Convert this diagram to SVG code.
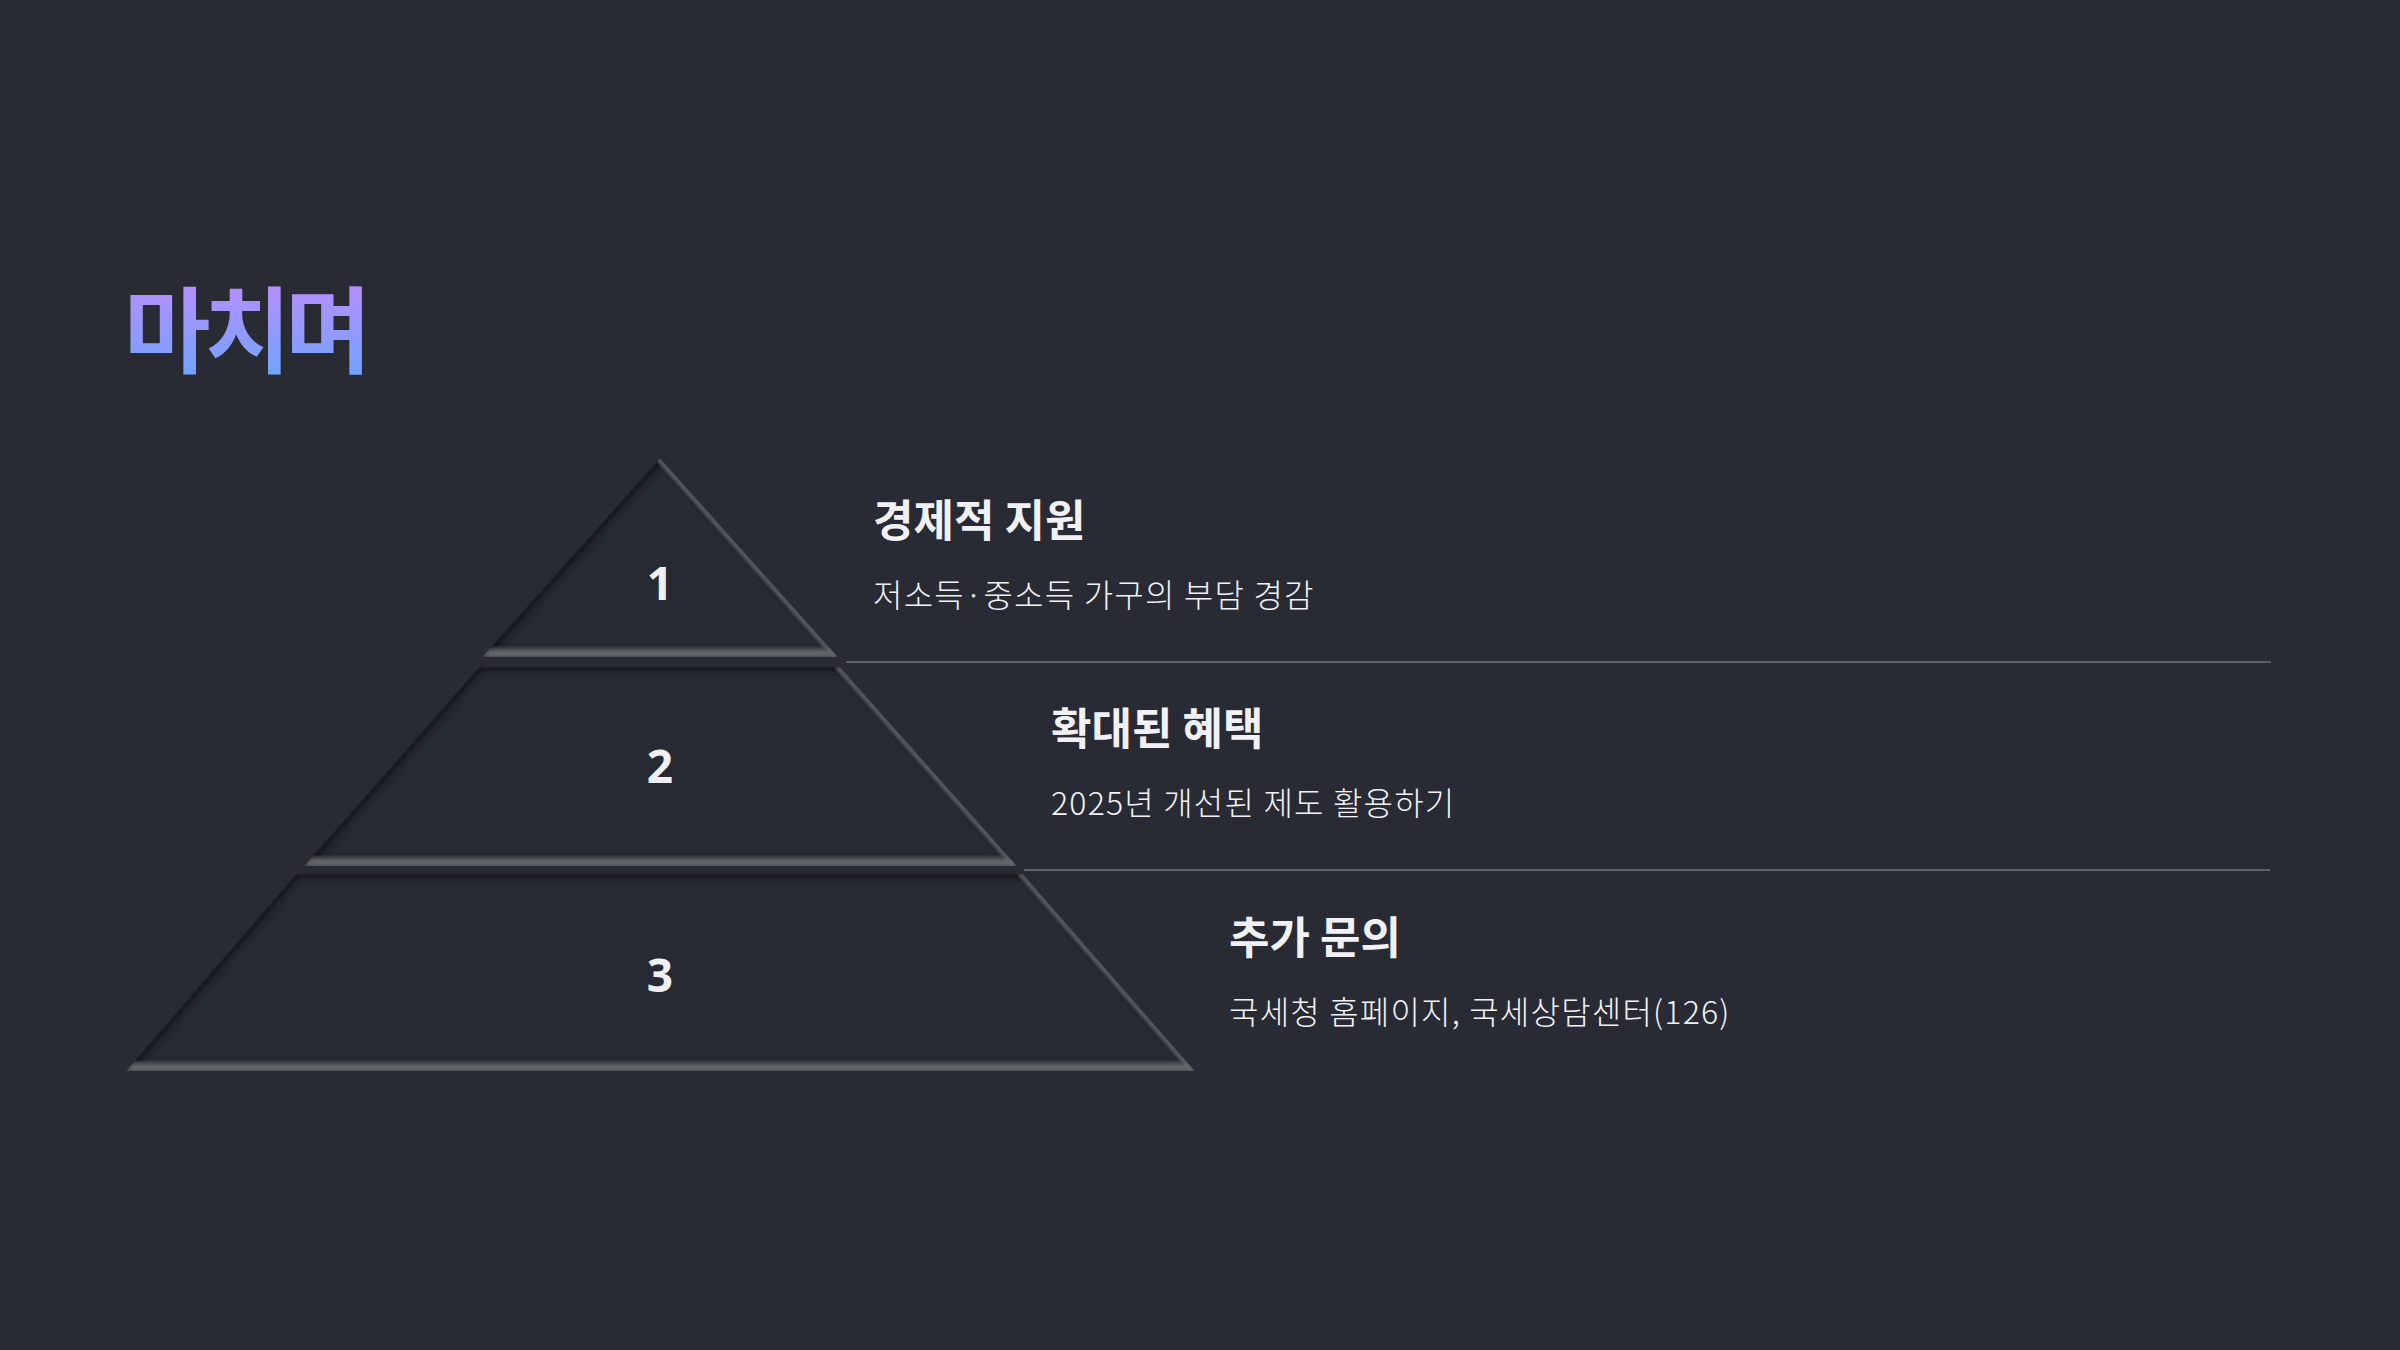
<svg xmlns="http://www.w3.org/2000/svg" width="2400" height="1350" viewBox="0 0 2400 1350">
<defs>
<linearGradient id="titleGrad" x1="0" y1="0" x2="0" y2="1">
<stop offset="0" stop-color="#cc88fa"/>
<stop offset="1" stop-color="#62a8ff"/>
</linearGradient>
<filter id="inset" x="-5%" y="-5%" width="110%" height="110%">
<feOffset in="SourceAlpha" dx="3" dy="4" result="offD"/>
<feComposite in="SourceAlpha" in2="offD" operator="out" result="rimD"/>
<feGaussianBlur in="rimD" stdDeviation="2" result="blurD"/>
<feFlood flood-color="#15171b" flood-opacity="0.95"/>
<feComposite in2="blurD" operator="in" result="darkSh"/>
<feOffset in="SourceAlpha" dx="0" dy="-7" result="offL"/>
<feComposite in="SourceAlpha" in2="offL" operator="out" result="rimL"/>
<feGaussianBlur in="rimL" stdDeviation="2.5" result="blurL"/>
<feFlood flood-color="#6c6f74" flood-opacity="0.95"/>
<feComposite in2="blurL" operator="in" result="lightSh"/>
<feOffset in="SourceAlpha" dx="-5" dy="0" result="offR"/>
<feComposite in="SourceAlpha" in2="offR" operator="out" result="rimR"/>
<feGaussianBlur in="rimR" stdDeviation="1.5" result="blurR"/>
<feFlood flood-color="#62656b" flood-opacity="0.85"/>
<feComposite in2="blurR" operator="in" result="rightSh"/>
<feMerge result="m">
<feMergeNode in="SourceGraphic"/>
<feMergeNode in="darkSh"/>
<feMergeNode in="rightSh"/>
<feMergeNode in="lightSh"/>
</feMerge>
<feComposite in="m" in2="SourceAlpha" operator="in"/>
</filter>
<style>
.tier{fill:#262930;filter:url(#inset);}
.num{font-family:"Noto Sans","Noto Sans CJK KR",sans-serif;font-weight:700;font-size:46px;fill:#f0f0f5;text-anchor:middle;}
.head{font-family:"Noto Sans CJK KR","Noto Sans",sans-serif;font-weight:700;font-size:44px;fill:#f0f0f5;letter-spacing:0px;}
.sub{font-family:"Noto Sans CJK KR","Noto Sans",sans-serif;font-weight:300;font-size:32px;fill:#f2f2f6;letter-spacing:1.2px;}
.sep{stroke:#5d6068;stroke-width:2;fill:none;}
</style>
</defs>
<rect width="2400" height="1350" fill="#282b33"/>
<text id="title" x="124" y="366" font-family="'Noto Sans CJK KR',sans-serif" font-weight="700" font-size="94" letter-spacing="-6" fill="url(#titleGrad)">마치며</text>
<g id="connectors">
<line class="sep" x1="846" y1="662" x2="2271" y2="662"/>
<line class="sep" x1="1024" y1="870" x2="2270" y2="870"/>
</g>
<g id="tier1">
<polygon class="tier" points="660,458 838,657 482,657"/>
<text class="num" x="660" y="600">1</text>
</g>
<g id="tier2">
<polygon class="tier" points="479,667 840,667 1017,866 304,866"/>
<text class="num" x="660" y="783">2</text>
</g>
<g id="tier3">
<polygon class="tier" points="296,874 1023,874 1195,1071 126,1071"/>
<text class="num" x="660" y="992">3</text>
</g>
<g id="item1">
<text class="head" x="873" y="537">경제적 지원</text>
<text class="sub" x="873" y="607">저소득·중소득 가구의 부담 경감</text>
</g>
<g id="item2">
<text class="head" x="1051" y="745">확대된 혜택</text>
<text class="sub" x="1051" y="815">2025년 개선된 제도 활용하기</text>
</g>
<g id="item3">
<text class="head" x="1229" y="954">추가 문의</text>
<text class="sub" x="1229" y="1024">국세청 홈페이지, 국세상담센터(126)</text>
</g>
</svg>
